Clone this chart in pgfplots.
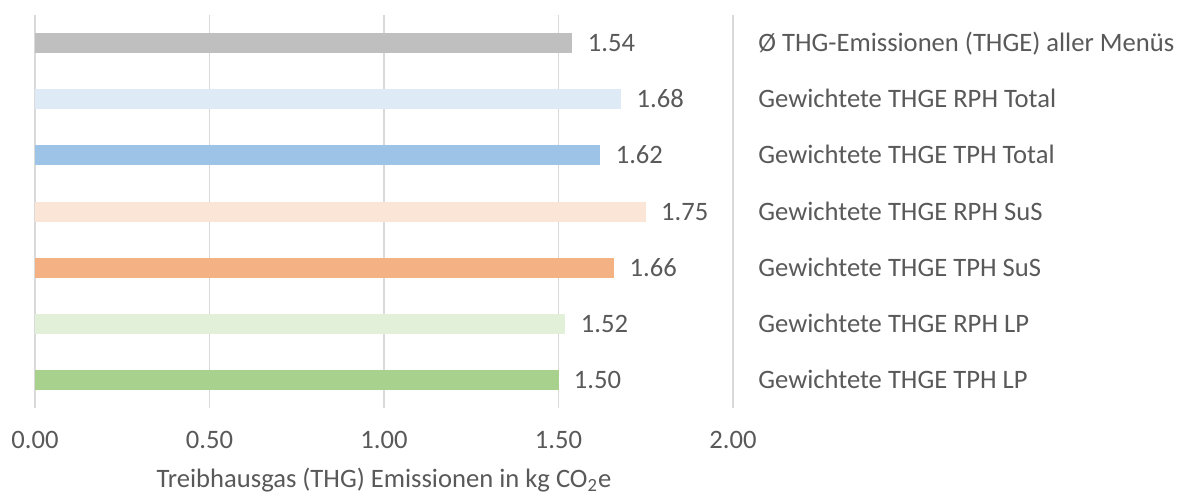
\documentclass[border=0pt]{standalone}
\usepackage{fontspec}
\setmainfont{Carlito}
\usepackage{pgfplots}
\pgfplotsset{compat=1.18}
\definecolor{txt}{HTML}{595959}
\definecolor{grd}{HTML}{D9D9D9}
\definecolor{cA}{HTML}{A9D18E}
\definecolor{cB}{HTML}{E2F0D9}
\definecolor{cC}{HTML}{F4B183}
\definecolor{cD}{HTML}{FBE5D6}
\definecolor{cE}{HTML}{9DC3E6}
\definecolor{cF}{HTML}{DEEBF7}
\definecolor{cG}{HTML}{BFBFBF}
\begin{document}
\fontsize{13.3pt}{16pt}\selectfont
\begin{tikzpicture}
% invisible frame to fix page size (1px = 0.5pt)
\path[use as bounding box] (-17.5pt,-43.5pt) rectangle (571.5pt,204pt);
\begin{axis}[
  at={(0pt,0pt)}, anchor=south west,
  scale only axis, width=349pt, height=196.5pt,
  xmin=0, xmax=2, ymin=-0.5, ymax=6.5,
  xbar, bar width=10pt, bar shift=0pt,
  axis line style={draw=none},
  major tick length=0pt,
  xmajorgrids=true,
  grid style={grd, line width=0.85pt},
  xtick={0,0.5,1,1.5,2},
  xticklabels={0.00,0.50,1.00,1.50,2.00},
  xticklabel style={anchor=base, yshift=-20.25pt, inner sep=0pt, text=txt},
  ytick={0,1,2,3,4,5,6},
  yticklabels={Gewichtete THGE TPH LP,Gewichtete THGE RPH LP,Gewichtete THGE TPH SuS,Gewichtete THGE RPH SuS,Gewichtete THGE TPH Total,Gewichtete THGE RPH Total,Ø THG-Emissionen (THGE) aller Menüs},
  yticklabel pos=right,
  yticklabel style={anchor=base west, inner sep=0pt, xshift=12.5pt, yshift=-4.3pt, text=txt},
  xlabel={Treibhausgas (THG) Emissionen in kg CO\textsubscript{2}e},
  xlabel style={at={(axis description cs:0.5,0)}, anchor=base, yshift=-39.5pt, inner sep=0pt, text=txt},
  /pgf/number format/assume math mode=true,
  nodes near coords={\pgfmathprintnumber[fixed,fixed zerofill,precision=2]{\pgfplotspointmeta}},
  nodes near coords style={anchor=base west, inner sep=0pt, xshift=7.5pt, yshift=-4.3pt, text=txt},
  point meta=x,
]
\addplot[draw=none, fill=cA] coordinates {(1.50,0)};
\addplot[draw=none, fill=cB] coordinates {(1.52,1)};
\addplot[draw=none, fill=cC] coordinates {(1.66,2)};
\addplot[draw=none, fill=cD] coordinates {(1.75,3)};
\addplot[draw=none, fill=cE] coordinates {(1.62,4)};
\addplot[draw=none, fill=cF] coordinates {(1.68,5)};
\addplot[draw=none, fill=cG] coordinates {(1.54,6)};
\end{axis}
\end{tikzpicture}
\end{document}
